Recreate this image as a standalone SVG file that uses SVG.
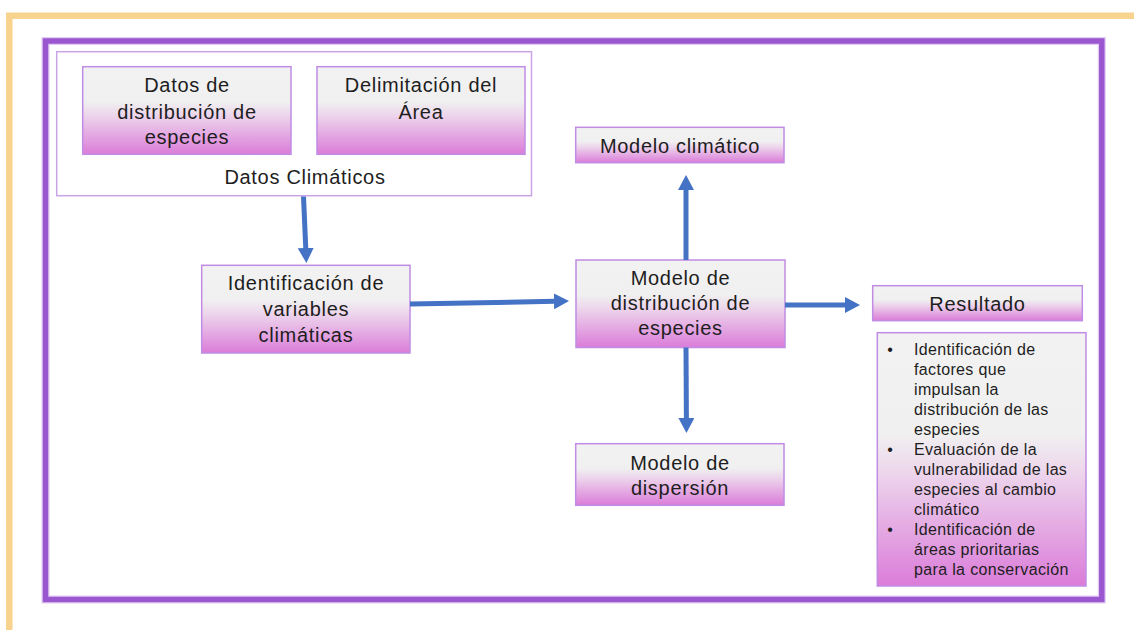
<svg xmlns="http://www.w3.org/2000/svg" width="1134" height="630" viewBox="0 0 1134 630">
<defs>
<linearGradient id="g" x1="0" y1="0" x2="0" y2="1">
<stop offset="0" stop-color="#F2F2F2"/>
<stop offset="0.4" stop-color="#F0F0F0"/>
<stop offset="0.55" stop-color="#EDD6EC"/>
<stop offset="1" stop-color="#DB7CD9"/>
</linearGradient>
<marker id="ah" viewBox="0 0 15 16" refX="1" refY="8" markerWidth="15" markerHeight="16" markerUnits="userSpaceOnUse" orient="auto">
<path d="M0,0 L15,8 L0,16 Z" fill="#4472C4"/>
</marker>
<style>
.box{fill:url(#g);stroke:#C08CE4;stroke-width:1.5}
.t{font-family:"Liberation Sans",Arial,sans-serif;font-size:20px;fill:#1E1E1E;text-anchor:middle;letter-spacing:0.7px}
.b{font-family:"Liberation Sans",Arial,sans-serif;font-size:16px;fill:#1E1E1E;letter-spacing:0.35px}
.bd{font-family:"Liberation Sans",Arial,sans-serif;font-size:16px;fill:#1E1E1E;text-anchor:middle}
.c{fill:none;stroke:#4472C4;stroke-width:5;marker-end:url(#ah)}
</style>
</defs>
<rect width="1134" height="630" fill="#FFFFFF"/>
<path d="M9.3,630 V15.8 H1134" fill="none" stroke="#F7D38E" stroke-width="6.5"/>
<rect x="45.5" y="41" width="1056.3" height="558.5" fill="none" stroke="#E2CCF2" stroke-width="8"/>
<rect x="45.5" y="41" width="1056.3" height="558.5" fill="none" stroke="#9B57CF" stroke-width="5.5"/>

<g id="datos-climaticos">
<rect x="56.7" y="51.7" width="474.8" height="144" fill="#FFFFFF" stroke="#C9A3E6" stroke-width="1.5"/>
<text class="t" x="305" y="184">Datos Climáticos</text>
</g>
<g id="datos-distribucion">
<rect class="box" x="82.7" y="66.7" width="208.3" height="87.6"/>
<text class="t" x="187" y="92">Datos de</text>
<text class="t" x="187" y="118.5">distribución de</text>
<text class="t" x="187" y="144">especies</text>
</g>
<g id="delimitacion">
<rect class="box" x="317" y="66.7" width="208" height="87.6"/>
<text class="t" x="421" y="92">Delimitación del</text>
<text class="t" x="421" y="118.5">Área</text>
</g>
<g id="identificacion">
<rect class="box" x="201.7" y="265.3" width="208.3" height="87.7"/>
<text class="t" x="306" y="290">Identificación de</text>
<text class="t" x="306" y="316">variables</text>
<text class="t" x="306" y="342">climáticas</text>
</g>
<g id="modelo-distribucion">
<rect class="box" x="576" y="260" width="209" height="87.5"/>
<text class="t" x="680.5" y="285">Modelo de</text>
<text class="t" x="680.5" y="310">distribución de</text>
<text class="t" x="680.5" y="335">especies</text>
</g>
<g id="modelo-climatico">
<rect class="box" x="575.7" y="127.3" width="208.3" height="35.4"/>
<text class="t" x="680" y="153">Modelo climático</text>
</g>
<g id="modelo-dispersion">
<rect class="box" x="575.7" y="443.7" width="208.3" height="61.6"/>
<text class="t" x="680" y="469.5">Modelo de</text>
<text class="t" x="680" y="495">dispersión</text>
</g>
<g id="resultado">
<rect class="box" x="872.7" y="285.7" width="209.6" height="35"/>
<text class="t" x="977.5" y="311">Resultado</text>
</g>
<g id="resultado-lista">
<rect class="box" x="877.3" y="332.7" width="208.7" height="253.3"/>
<text class="bd" x="890" y="355">•</text>
<text class="bd" x="890" y="455">•</text>
<text class="bd" x="890" y="535">•</text>
<text class="b" x="914" y="355">Identificación de</text>
<text class="b" x="914" y="375">factores que</text>
<text class="b" x="914" y="395">impulsan la</text>
<text class="b" x="914" y="415">distribución de las</text>
<text class="b" x="914" y="435">especies</text>
<text class="b" x="914" y="455">Evaluación de la</text>
<text class="b" x="914" y="475">vulnerabilidad de las</text>
<text class="b" x="914" y="495">especies al cambio</text>
<text class="b" x="914" y="515">climático</text>
<text class="b" x="914" y="535">Identificación de</text>
<text class="b" x="914" y="555">áreas prioritarias</text>
<text class="b" x="914" y="575">para la conservación</text>
</g>

<g id="connectors">
<path class="c" d="M303.5,196.5 L305.8,249"/>
<path class="c" d="M410,304 L555,301.3"/>
<path class="c" d="M686,260 L686,189"/>
<path class="c" d="M686,347.5 L686.4,419"/>
<path class="c" d="M785,305 L846,305"/>
</g>
</svg>
